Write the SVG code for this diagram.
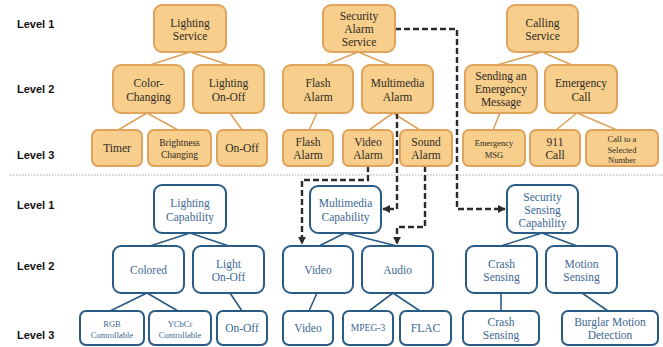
<svg xmlns="http://www.w3.org/2000/svg" width="663" height="347" viewBox="0 0 663 347">
<defs>
<style>
text{font-family:"Liberation Serif","DejaVu Serif","Times New Roman",serif}
.o rect{fill:#F7CE8C;stroke:#DFA35B;stroke-width:2}
.b rect{fill:#FFFFFF;stroke:#2A5B85;stroke-width:2}
.o text{font-size:11.5px;fill:#2E2A24;text-anchor:middle}
.b text{font-size:11.5px;fill:#3C6893;text-anchor:middle}
.o text.s,.b text.s{font-size:9.5px}
.o text.xs,.b text.xs{font-size:8.5px}
.b text.m{font-size:11.5px}
text.lvl{font-family:"Liberation Sans",Arial,sans-serif;font-weight:bold;font-size:11px;fill:#111}
.lo{stroke:#DFA35B;stroke-width:1.6;fill:none}
.lb{stroke:#2A5B85;stroke-width:1.6;fill:none}
.d{stroke:#2B2B2B;stroke-width:2.4;stroke-dasharray:6 3;fill:none}
</style>
<marker id="ah" viewBox="0 0 10 10" refX="9" refY="5" markerWidth="3.3" markerHeight="3.3" orient="auto" markerUnits="strokeWidth">
<path d="M0,0 L10,5 L0,10 z" fill="#2B2B2B"/>
</marker>
</defs>
<rect width="663" height="347" fill="#FFFFFF"/>

<g id="levels">
<text class="lvl" x="17" y="28">Level 1</text>
<text class="lvl" x="17" y="93">Level 2</text>
<text class="lvl" x="17" y="159">Level 3</text>
<text class="lvl" x="17" y="209">Level 1</text>
<text class="lvl" x="17" y="270">Level 2</text>
<text class="lvl" x="17" y="339">Level 3</text>
</g>

<line x1="10" y1="175" x2="663" y2="175" stroke="#A8A8A8" stroke-width="1" stroke-dasharray="1.5 1.5"/>

<g id="connectors">
<path class="lo" d="M190,52 L150,65 M190,52 L229,65"/>
<path class="lo" d="M147,113 L118,130 M147,113 L178,130"/>
<path class="lo" d="M230,113 L242,130"/>
<path class="lo" d="M358,52 L326,65 M358,52 L390,65"/>
<path class="lo" d="M317,113 L309,130"/>
<path class="lo" d="M393,113 L369,130 M393,113 L420,130"/>
<path class="lo" d="M542,52 L497,65 M542,52 L572,65"/>
<path class="lo" d="M500,113 L493,130"/>
<path class="lo" d="M577,113 L556,130 M577,113 L617,130"/>
<path class="lb" d="M190,233 L150,246 M190,233 L229,246"/>
<path class="lb" d="M147,293 L110,311 M147,293 L178,311"/>
<path class="lb" d="M230,293 L242,311"/>
<path class="lb" d="M345,233 L319,246 M345,233 L397,246"/>
<path class="lb" d="M317,293 L309,311"/>
<path class="lb" d="M393,293 L369,311 M393,293 L420,311"/>
<path class="lb" d="M542,233 L501,246 M542,233 L577,246"/>
<path class="lb" d="M501,293 L501,311"/>
<path class="lb" d="M582,293 L608,311"/>
<path class="d" d="M395,29 L457,29 L457,209 L505,209" marker-end="url(#ah)"/>
<path class="d" d="M397,113 L397,209 L383,209" marker-end="url(#ah)"/>
<path class="d" d="M368,166 L368,180 L302,180 L302,244" marker-end="url(#ah)"/>
<path class="d" d="M425,166 L425,227 L397,227 L397,244" marker-end="url(#ah)"/>
</g>

<g id="lighting-service" class="o"><rect x="154" y="5" width="72" height="47" rx="8"/><text x="190" y="27">Lighting</text><text x="190" y="40">Service</text></g>
<g id="color-changing" class="o"><rect x="113" y="65" width="71" height="48" rx="8"/><text x="148.5" y="87">Color-</text><text x="148.5" y="101">Changing</text></g>
<g id="lighting-on-off" class="o"><rect x="193" y="65" width="71" height="48" rx="8"/><text x="228.5" y="87">Lighting</text><text x="228.5" y="101">On-Off</text></g>
<g id="timer" class="o"><rect x="92" y="130" width="50" height="36" rx="6"/><text x="117" y="152">Timer</text></g>
<g id="brightness-changing" class="o"><rect x="148" y="130" width="63" height="36" rx="6"/><text class="s" x="179.5" y="146">Brightness</text><text class="s" x="179.5" y="157.5">Changing</text></g>
<g id="on-off-top" class="o"><rect x="217" y="130" width="50" height="36" rx="6"/><text x="242" y="152">On-Off</text></g>

<g id="security-alarm-service" class="o"><rect x="323" y="5" width="72" height="47" rx="8"/><text x="359" y="20">Security</text><text x="359" y="33">Alarm</text><text x="359" y="46">Service</text></g>
<g id="flash-alarm-2" class="o"><rect x="283" y="65" width="70" height="48" rx="8"/><text x="318" y="87">Flash</text><text x="318" y="101">Alarm</text></g>
<g id="multimedia-alarm" class="o"><rect x="362" y="65" width="71" height="48" rx="8"/><text x="397.5" y="87">Multimedia</text><text x="397.5" y="101">Alarm</text></g>
<g id="flash-alarm-3" class="o"><rect x="283" y="130" width="50" height="36" rx="6"/><text x="308" y="146">Flash</text><text x="308" y="159">Alarm</text></g>
<g id="video-alarm" class="o"><rect x="343" y="130" width="50" height="36" rx="6"/><text x="368" y="146">Video</text><text x="368" y="159">Alarm</text></g>
<g id="sound-alarm" class="o"><rect x="400" y="130" width="52" height="36" rx="6"/><text x="426" y="146">Sound</text><text x="426" y="159">Alarm</text></g>

<g id="calling-service" class="o"><rect x="507" y="5" width="71" height="47" rx="8"/><text x="542.5" y="27">Calling</text><text x="542.5" y="40">Service</text></g>
<g id="sending-emergency" class="o"><rect x="465" y="65" width="72" height="48" rx="8"/><text x="501" y="80">Sending an</text><text x="501" y="93">Emergency</text><text x="501" y="106">Message</text></g>
<g id="emergency-call" class="o"><rect x="545" y="65" width="72" height="48" rx="8"/><text x="581" y="87">Emergency</text><text x="581" y="101">Call</text></g>
<g id="emergency-msg" class="o"><rect x="463" y="130" width="62" height="36" rx="6"/><text class="xs" x="494" y="146">Emergency</text><text class="xs" x="494" y="158">MSG</text></g>
<g id="call-911" class="o"><rect x="530" y="130" width="50" height="36" rx="6"/><text x="555" y="146">911</text><text x="555" y="159">Call</text></g>
<g id="call-selected" class="o"><rect x="586" y="130" width="72" height="36" rx="6"/><text class="xs" x="622" y="142">Call to a</text><text class="xs" x="622" y="152.5">Selected</text><text class="xs" x="622" y="163">Number</text></g>

<g id="lighting-capability" class="b"><rect x="154" y="185" width="72" height="48" rx="8"/><text x="190" y="207">Lighting</text><text x="190" y="221">Capability</text></g>
<g id="colored" class="b"><rect x="113" y="246" width="71" height="47" rx="8"/><text x="148.5" y="274">Colored</text></g>
<g id="light-on-off" class="b"><rect x="193" y="246" width="71" height="47" rx="8"/><text x="228.5" y="268">Light</text><text x="228.5" y="281">On-Off</text></g>
<g id="rgb-controllable" class="b"><rect x="80" y="311" width="64" height="34" rx="6"/><text class="xs" x="112" y="327">RGB</text><text class="xs" x="112" y="337.5">Controllable</text></g>
<g id="ycbcr-controllable" class="b"><rect x="149" y="311" width="62" height="34" rx="6"/><text class="xs" x="180" y="327">YCbCr</text><text class="xs" x="180" y="337.5">Controllable</text></g>
<g id="on-off-bottom" class="b"><rect x="217" y="311" width="50" height="34" rx="6"/><text x="242" y="332">On-Off</text></g>

<g id="multimedia-capability" class="b"><rect x="310" y="186" width="71" height="47" rx="8"/><text x="345.5" y="207">Multimedia</text><text x="345.5" y="221">Capability</text></g>
<g id="video-2" class="b"><rect x="283" y="246" width="70" height="47" rx="8"/><text x="318" y="274">Video</text></g>
<g id="audio" class="b"><rect x="362" y="246" width="71" height="47" rx="8"/><text x="397.5" y="274">Audio</text></g>
<g id="video-3" class="b"><rect x="283" y="311" width="50" height="34" rx="6"/><text x="308" y="332">Video</text></g>
<g id="mpeg3" class="b"><rect x="343" y="311" width="50" height="34" rx="6"/><text class="s" x="368" y="331">MPEG-3</text></g>
<g id="flac" class="b"><rect x="400" y="311" width="51" height="34" rx="6"/><text x="425.5" y="332">FLAC</text></g>

<g id="security-sensing-capability" class="b"><rect x="507" y="185" width="71" height="48" rx="8"/><text x="542.5" y="201">Security</text><text x="542.5" y="214">Sensing</text><text x="542.5" y="227">Capability</text></g>
<g id="crash-sensing-2" class="b"><rect x="466" y="246" width="71" height="47" rx="8"/><text x="501.5" y="268">Crash</text><text x="501.5" y="281">Sensing</text></g>
<g id="motion-sensing" class="b"><rect x="546" y="246" width="71" height="47" rx="8"/><text x="581.5" y="268">Motion</text><text x="581.5" y="281">Sensing</text></g>
<g id="crash-sensing-3" class="b"><rect x="463" y="311" width="76" height="34" rx="6"/><text class="m" x="501" y="325.5">Crash</text><text class="m" x="501" y="339">Sensing</text></g>
<g id="burglar-motion" class="b"><rect x="562" y="311" width="96" height="34" rx="6"/><text class="m" x="610" y="325.5">Burglar Motion</text><text class="m" x="610" y="339">Detection</text></g>
</svg>
